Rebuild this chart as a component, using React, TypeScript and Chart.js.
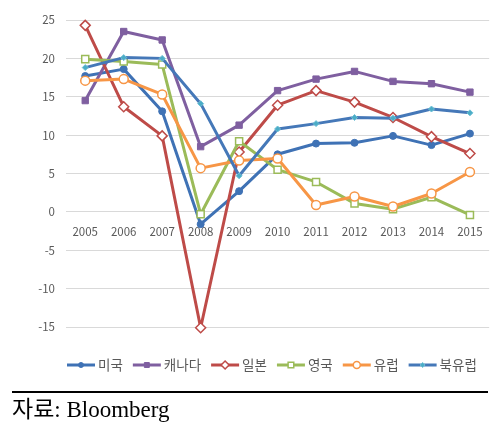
import React, { useEffect, useRef } from "react";
import { Chart, registerables } from "chart.js";

Chart.register(...registerables);

const years = ["2005", "2006", "2007", "2008", "2009", "2010", "2011", "2012", "2013", "2014", "2015"];
const usa = [17.7, 18.6, 13.1, -1.6, 2.7, 7.5, 8.9, 9.0, 9.9, 8.7, 10.2];
const canada = [14.5, 23.5, 22.4, 8.5, 11.3, 15.8, 17.3, 18.3, 17.0, 16.7, 15.6];
const japan = [24.3, 13.7, 9.9, -15.1, 7.8, 13.9, 15.8, 14.3, 12.3, 9.8, 7.6];
const uk = [19.9, 19.6, 19.2, -0.3, 9.2, 5.5, 3.9, 1.1, 0.35, 1.9, -0.4];
const europe = [17.1, 17.3, 15.3, 5.7, 6.7, 6.95, 0.9, 2.0, 0.7, 2.4, 5.2];
const nordic = [18.8, 20.1, 20.0, 14.1, 4.7, 10.8, 11.5, 12.3, 12.2, 13.4, 12.9];
const seriesNames = ["미국", "캐나다", "일본", "영국", "유럽", "북유럽"];
const yTicks = [25, 20, 15, 10, 5, 0, -5, -10, -15];
const sourceText = "자료: Bloomberg";

type Style = {
  line: string;
  fill: string;
  border: string;
  shape: "circle" | "rect" | "rectRot";
  radius: number;
  bw: number;
};

const styles: Style[] = [
  { line: "#3F72B5", fill: "#3F72B5", border: "#3F72B5", shape: "circle", radius: 3.5, bw: 1 },
  { line: "#7F5FA0", fill: "#7F5FA0", border: "#7F5FA0", shape: "rect", radius: 4.5, bw: 1 },
  { line: "#BE4B48", fill: "#FFFFFF", border: "#BE4B48", shape: "rectRot", radius: 5, bw: 1.5 },
  { line: "#9BBB59", fill: "#FFFFFF", border: "#9BBB59", shape: "rect", radius: 5, bw: 1.5 },
  { line: "#F79646", fill: "#FFFFFF", border: "#F79646", shape: "circle", radius: 4.5, bw: 1.5 },
  { line: "#4578B8", fill: "#4BACC6", border: "#6FC0D6", shape: "rectRot", radius: 3, bw: 1 },
];

const seriesValues = [usa, canada, japan, uk, europe, nordic];

function drawMarker(ctx: CanvasRenderingContext2D, s: Style, x: number, y: number, r: number) {
  ctx.save();
  ctx.fillStyle = s.fill;
  ctx.strokeStyle = s.border;
  ctx.lineWidth = s.bw;
  ctx.beginPath();
  if (s.shape === "circle") {
    ctx.arc(x, y, r, 0, Math.PI * 2);
  } else if (s.shape === "rect") {
    const h = r / Math.SQRT2;
    ctx.rect(x - h, y - h, 2 * h, 2 * h);
  } else {
    ctx.moveTo(x, y - r);
    ctx.lineTo(x + r, y);
    ctx.lineTo(x, y + r);
    ctx.lineTo(x - r, y);
    ctx.closePath();
  }
  ctx.fill();
  ctx.stroke();
  ctx.restore();
}

const legendPlugin = {
  id: "customLegend",
  afterDraw(chart: any) {
    const ctx: CanvasRenderingContext2D = chart.ctx;
    const y = 365;
    let x = 67;
    ctx.save();
    ctx.font = "13.5px 'Noto Sans CJK KR', sans-serif";
    ctx.textBaseline = "middle";
    seriesNames.forEach((name, i) => {
      const s = styles[i];
      ctx.strokeStyle = s.line;
      ctx.lineWidth = 3;
      ctx.lineCap = "butt";
      ctx.beginPath();
      ctx.moveTo(x, y);
      ctx.lineTo(x + 28, y);
      ctx.stroke();
      drawMarker(ctx, s, x + 14, y, Math.max(2.5, s.radius - 1));
      ctx.fillStyle = "#595959";
      ctx.fillText(name, x + 31, y);
      x += 31 + ctx.measureText(name).width + 10;
    });
    ctx.restore();
  },
};

export default function App() {
  const ref = useRef<HTMLCanvasElement>(null);

  useEffect(() => {
    if (!ref.current) return;
    const n = seriesNames.length;
    const chart = new Chart(ref.current, {
      type: "line",
      data: {
        labels: years,
        datasets: seriesNames.map((name, i) => ({
          label: name,
          data: seriesValues[i],
          borderColor: styles[i].line,
          borderWidth: 3,
          backgroundColor: styles[i].fill,
          pointBackgroundColor: styles[i].fill,
          pointBorderColor: styles[i].border,
          pointBorderWidth: styles[i].bw,
          pointStyle: styles[i].shape,
          pointRadius: styles[i].radius,
          pointHoverRadius: styles[i].radius,
          borderJoinStyle: "round",
          borderCapStyle: "round",
          tension: 0,
          fill: false,
          clip: 8,
          order: n - i,
        })),
      },
      options: {
        animation: false,
        responsive: false,
        maintainAspectRatio: false,
        layout: { padding: { left: 0, right: 6, top: 20, bottom: 103 } },
        plugins: {
          legend: { display: false },
          tooltip: { enabled: false },
        },
        scales: {
          x: {
            type: "category",
            position: { y: 0 } as any,
            offset: true,
            grid: { display: false, drawTicks: false },
            border: { display: false },
            ticks: {
              color: "#595959",
              font: { family: "'Noto Sans CJK KR', sans-serif", size: 11.5 },
              padding: 13,
              maxRotation: 0,
              autoSkip: false,
            },
          },
          y: {
            min: -15,
            max: 25,
            afterFit: (scale: any) => {
              scale.width = 66;
            },
            afterBuildTicks: (scale: any) => {
              scale.ticks = yTicks.map((v) => ({ value: v }));
            },
            grid: { color: "#D9D9D9", lineWidth: 1, drawTicks: false },
            border: { display: false },
            ticks: {
              color: "#595959",
              font: { family: "'Noto Sans CJK KR', sans-serif", size: 11.5 },
              padding: 11,
            },
          },
        },
      },
      plugins: [legendPlugin],
    });
    return () => chart.destroy();
  }, []);

  return (
    <div style={{ position: "absolute", left: 0, top: 0, width: 496, height: 430, background: "#fff", overflow: "hidden" }}>
      <canvas ref={ref} width={496} height={430} style={{ position: "absolute", left: 0, top: 0, width: 496, height: 430 }} />
      <div style={{ position: "absolute", left: 12, top: 391, width: 476, height: 2, background: "#000" }} />
      <div
        style={{
          position: "absolute",
          left: 12,
          top: 396,
          fontFamily: "'Liberation Serif', 'Noto Sans CJK KR', serif",
          fontSize: 23,
          lineHeight: "28px",
          color: "#000",
          whiteSpace: "nowrap",
        }}
      >
        {sourceText}
      </div>
    </div>
  );
}
